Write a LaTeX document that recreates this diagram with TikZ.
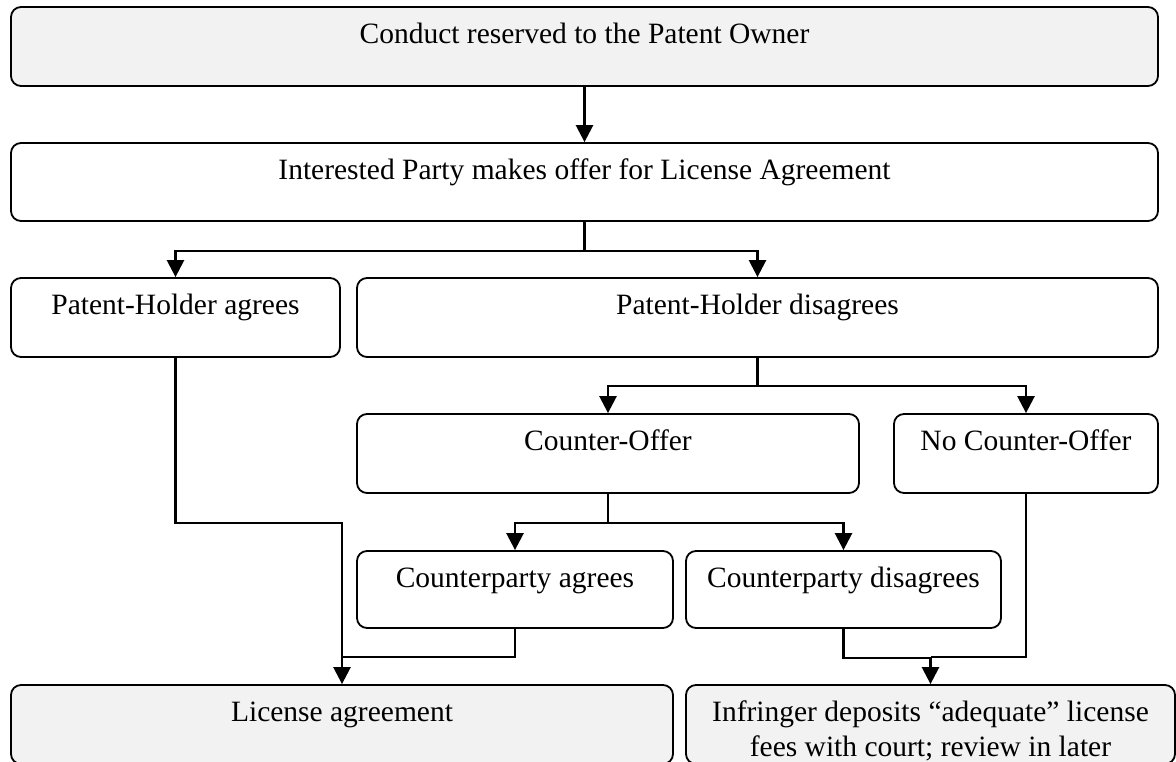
\documentclass[tikz,border=0pt]{standalone}
\usepackage{fontspec}
\setmainfont{Liberation Serif}
\usetikzlibrary{arrows.meta}
\definecolor{boxgray}{HTML}{F2F2F2}
\begin{document}
\begin{tikzpicture}[x=1pt,y=-1pt,
  box/.style={draw, line width=1.8pt, rounded corners=10pt, inner sep=0pt,
    font=\fontsize{29.5}{35}\selectfont, text height=36pt, align=center},
  gbox/.style={box, fill=boxgray},
  conn/.style={line width=2.5pt},
  arr/.style={conn, -{Triangle[length=17pt,width=17pt]}}]
\useasboundingbox (0,0) rectangle (1176,761);
\clip (0,0) rectangle (1176,761);
% boxes
\node[gbox, minimum width=1147pt, minimum height=79pt, text depth=43pt] (top) at (584.5,46.5) {Conduct reserved to the Patent Owner};
\node[box, minimum width=1147pt, minimum height=78pt, text depth=42pt] (offer) at (584.5,182) {Interested Party makes offer for License Agreement};
\node[box, minimum width=329pt, minimum height=79pt, text depth=43pt] (pha) at (175.5,317.5) {Patent-Holder agrees};
\node[box, minimum width=801pt, minimum height=79pt, text depth=43pt] (phd) at (757.5,317.5) {Patent-Holder disagrees};
\node[box, minimum width=502pt, minimum height=79pt, text depth=43pt] (co) at (608,453.5) {Counter-Offer};
\node[box, minimum width=264pt, minimum height=79pt, text depth=43pt] (nco) at (1026,453.5) {No Counter-Offer};
\node[box, minimum width=316pt, minimum height=77pt, text depth=41pt] (ca) at (515,589.5) {Counterparty agrees};
\node[box, minimum width=315pt, minimum height=77pt, text depth=41pt] (cd) at (843.5,589.5) {Counterparty disagrees};
\node[gbox, minimum width=662pt, minimum height=79pt, text depth=43pt] (la) at (342,724.5) {License agreement};
\node[gbox, minimum width=489pt, minimum height=79pt, text height=71pt, text depth=8pt] (inf) at (930.5,724.5) {Infringer deposits \textquotedblleft adequate\textquotedblright\ license\\fees with court; review in later};
% connectors
\draw[arr] (top.south) -- (offer.north);
\draw[conn] (offer.south) -- ++(0,29) coordinate (s1);
\draw[arr] (s1) -| (pha.north);
\draw[arr] (s1) -| (phd.north);
\draw[conn] (phd.south) -- ++(0,28) coordinate (s2);
\draw[arr] (s2) -| (co.north);
\draw[arr] (s2) -| (nco.north);
\draw[conn] (co.south) -- ++(0,29) coordinate (s3);
\draw[arr] (s3) -| (ca.north);
\draw[arr] (s3) -| (cd.north);
\draw[arr] (pha.south) -- ++(0,165) -| (la.north);
\coordinate (jl) at (342,657);
\coordinate (jr) at (930.5,657);
\draw[conn] (ca.south) |- (jl);
\draw[arr] (cd.south) -- ++(0,29) -| (inf.north);
\draw[conn] (nco.south) |- (jr);
\end{tikzpicture}
\end{document}
